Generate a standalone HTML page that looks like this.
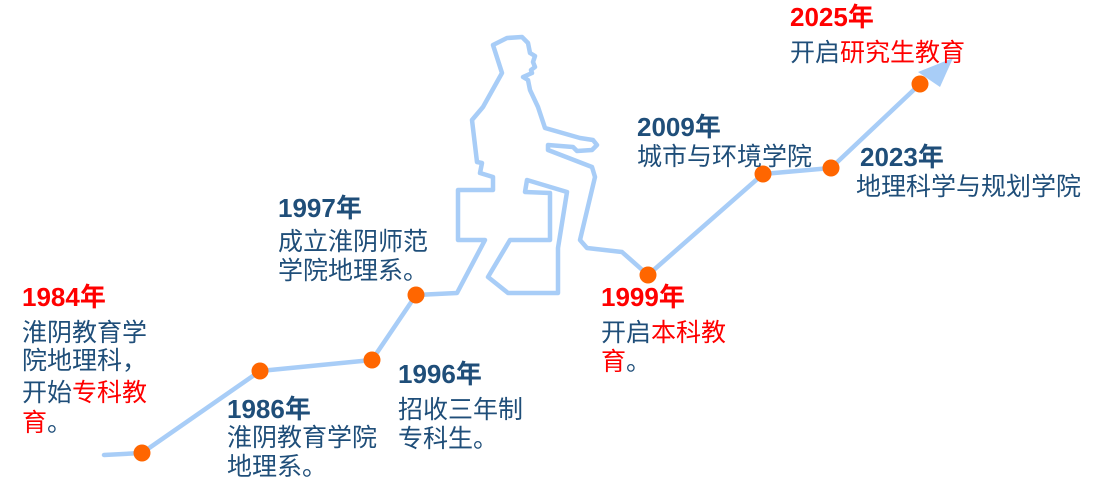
<!DOCTYPE html>
<html><head><meta charset="utf-8"><style>
html,body{margin:0;padding:0;background:#fff;}
svg{display:block;}
text{font-family:"Liberation Sans","Noto Sans CJK SC",sans-serif;font-size:25px;fill:#1f4e79;}
.y{font-weight:bold;font-size:26px;}
.r{fill:#ff0000;}
</style></head><body>
<svg width="1095" height="491" viewBox="0 0 1095 491" xmlns="http://www.w3.org/2000/svg">
<g fill="none" stroke="#a8cdf7" stroke-width="4.5" stroke-linejoin="round" stroke-linecap="round">
<polyline points="104,455 142,453 260,371 372,360 416,295 457,293 485,240 458,240 458,190 493,190 493,177 480,173 482,163 477,162 472,120 483,107 502,73 493,45 507,38 522,37 528,43 530,53 535,56 533,62 535,67 531,70 532,73 523,77 528,80 530,90 538,107 545,128 580,138 593,140 597,145 592,150 577,151 573,147 548,145 548,150 592,167 595,177 580,240 587,248 622,252 648,275 763,174 831,168 920,84"/>
<polygon points="510,240 488,277 508,293 558,293 558,248 567,192 527,180 525,192 550,193 550,240"/>
</g>
<polygon points="953,58 918,72 940,87" fill="#a8cdf7"/>
<g fill="#ff6600">
<circle cx="142" cy="453" r="8.5"/><circle cx="260" cy="371" r="8.5"/><circle cx="372" cy="360" r="8.5"/><circle cx="416" cy="295" r="8.5"/><circle cx="648" cy="275" r="8.5"/><circle cx="763" cy="174" r="8.5"/><circle cx="831" cy="168" r="8.5"/><circle cx="920" cy="84" r="8.5"/>
</g>
<text x="790" y="26" class="y r">2025年</text>
<text x="790" y="61">开启<tspan class="r">研究生教育</tspan></text>
<text x="637" y="136" class="y">2009年</text>
<text x="637" y="165">城市与环境学院</text>
<text x="860" y="166" class="y">2023年</text>
<text x="856" y="195">地理科学与规划学院</text>
<text x="278" y="217" class="y">1997年</text>
<text x="278" y="250">成立淮阴师范</text>
<text x="278" y="279">学院地理系。</text>
<text x="22" y="306" class="y r">1984年</text>
<text x="22" y="341">淮阴教育学</text>
<text x="22" y="369">院地理科，</text>
<text x="22" y="401">开始<tspan class="r">专科教</tspan></text>
<text x="22" y="431"><tspan class="r">育</tspan>。</text>
<text x="601" y="306" class="y r">1999年</text>
<text x="601" y="341">开启<tspan class="r">本科教</tspan></text>
<text x="601" y="370"><tspan class="r">育</tspan>。</text>
<text x="398" y="383" class="y">1996年</text>
<text x="398" y="418">招收三年制</text>
<text x="398" y="447">专科生。</text>
<text x="227" y="418" class="y">1986年</text>
<text x="227" y="446">淮阴教育学院</text>
<text x="227" y="475">地理系。</text>
</svg>
</body></html>
